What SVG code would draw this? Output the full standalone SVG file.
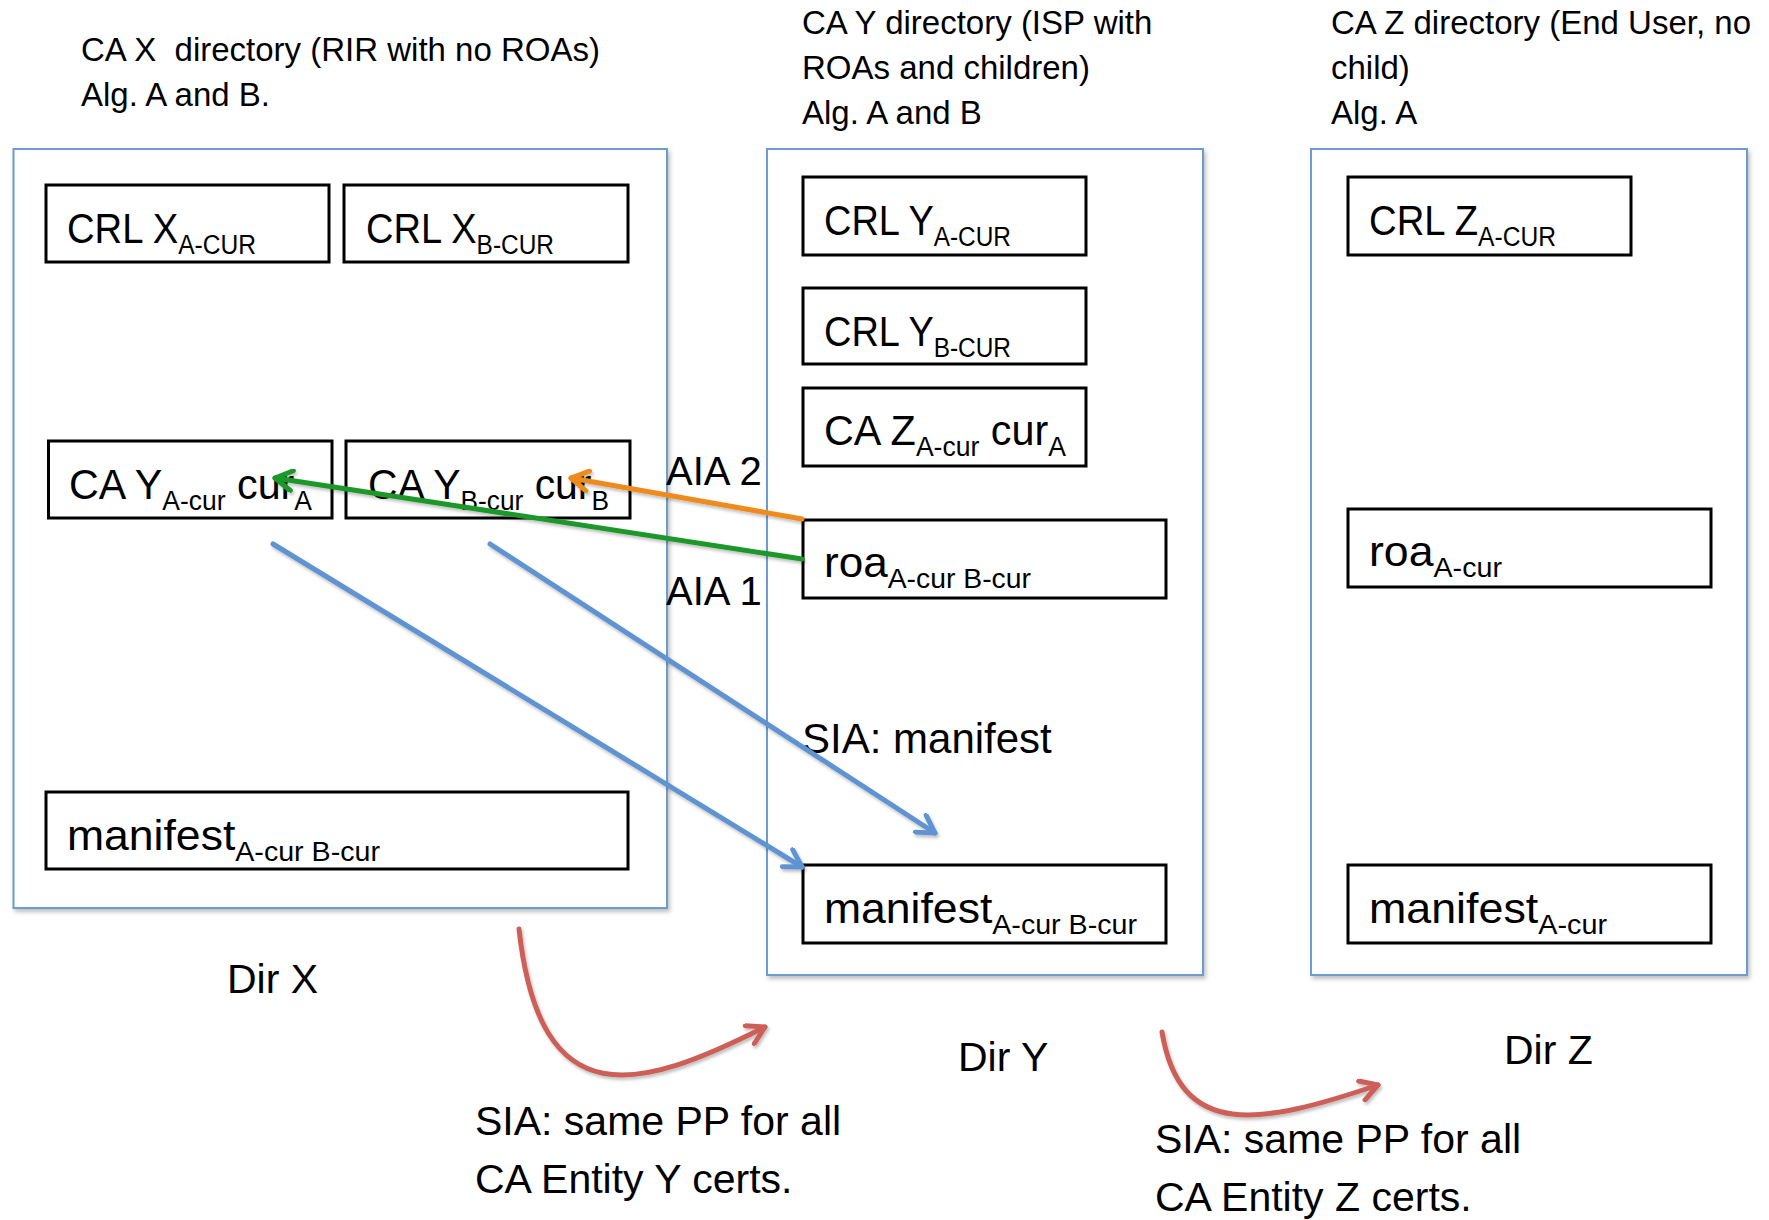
<svg xmlns="http://www.w3.org/2000/svg" width="1769" height="1220" viewBox="0 0 1769 1220">
<style>
text{font-family:"Liberation Sans",Arial,sans-serif;fill:#000}
.title{font-size:33px}
.lbl{font-size:41px}
.bt{font-size:42px}
.sub{font-size:27px}
.dir{fill:#fff;stroke:#6e9bd2;stroke-width:2;filter:url(#sh)}
.box{fill:#fff;stroke:#000;stroke-width:3}
.c{fill:none;stroke-width:5;stroke-linecap:round}
</style>
<defs>
<filter id="sh" x="-5%" y="-5%" width="110%" height="110%">
<feDropShadow dx="2" dy="3" stdDeviation="2" flood-color="#000" flood-opacity="0.25"/>
</filter>
<filter id="lsh" x="-10%" y="-10%" width="120%" height="120%">
<feDropShadow dx="1.5" dy="2.5" stdDeviation="1.5" flood-color="#000" flood-opacity="0.25"/>
</filter>
<marker id="aB" viewBox="0 0 24 24" refX="20" refY="12" markerWidth="24" markerHeight="24" markerUnits="userSpaceOnUse" orient="auto"><path d="M3,2 L20,12 L3,22" fill="none" stroke="#5f93d1" stroke-width="5" stroke-linecap="round" stroke-linejoin="round"/></marker>
<marker id="aG" viewBox="0 0 24 24" refX="20" refY="12" markerWidth="24" markerHeight="24" markerUnits="userSpaceOnUse" orient="auto"><path d="M3,2 L20,12 L3,22" fill="none" stroke="#1f982a" stroke-width="5" stroke-linecap="round" stroke-linejoin="round"/></marker>
<marker id="aO" viewBox="0 0 24 24" refX="20" refY="12" markerWidth="24" markerHeight="24" markerUnits="userSpaceOnUse" orient="auto"><path d="M3,2 L20,12 L3,22" fill="none" stroke="#ef8a1b" stroke-width="5" stroke-linecap="round" stroke-linejoin="round"/></marker>
<marker id="aR" viewBox="0 0 24 24" refX="20" refY="12" markerWidth="24" markerHeight="24" markerUnits="userSpaceOnUse" orient="auto"><path d="M3,2 L20,12 L3,22" fill="none" stroke="#cc6158" stroke-width="5" stroke-linecap="round" stroke-linejoin="round"/></marker>
</defs>
<rect width="1769" height="1220" fill="#fff"/>

<g id="dirX">
<text class="title" x="81" y="61" xml:space="preserve">CA X  directory (RIR with no ROAs)</text>
<text class="title" x="81" y="106">Alg. A and B.</text>
<rect class="dir" x="13.5" y="149" width="653.5" height="759"/>
<text class="lbl" x="227" y="993">Dir X</text>
</g>
<g id="dirY">
<text class="title" x="802" y="34">CA Y directory (ISP with</text>
<text class="title" x="802" y="79">ROAs and children)</text>
<text class="title" x="802" y="124">Alg. A and B</text>
<rect class="dir" x="767" y="149" width="436" height="826"/>
<text class="lbl" x="958" y="1071">Dir Y</text>
</g>
<g id="dirZ">
<text class="title" x="1331" y="34">CA Z directory (End User, no</text>
<text class="title" x="1331" y="79">child)</text>
<text class="title" x="1331" y="124">Alg. A</text>
<rect class="dir" x="1311" y="149" width="436" height="826"/>
<text class="lbl" x="1504" y="1064">Dir Z</text>
</g>

<g id="crlXA"><rect class="box" x="46" y="185" width="283" height="77"/>
<text class="bt" x="67" y="243" textLength="189" lengthAdjust="spacingAndGlyphs">CRL X<tspan class="sub" dy="11">A-CUR</tspan></text></g>
<g id="crlXB"><rect class="box" x="344" y="185" width="284" height="77"/>
<text class="bt" x="366" y="243" textLength="188" lengthAdjust="spacingAndGlyphs">CRL X<tspan class="sub" dy="11">B-CUR</tspan></text></g>
<g id="caYA"><rect class="box" x="48.5" y="441" width="283.5" height="77"/>
<text class="bt" x="69" y="499" textLength="243" lengthAdjust="spacingAndGlyphs">CA Y<tspan class="sub" dy="11">A-cur</tspan><tspan dy="-11"> cur</tspan><tspan class="sub" dy="11">A</tspan></text></g>
<g id="caYB"><rect class="box" x="346" y="441" width="284" height="77"/>
<text class="bt" x="368" y="499" textLength="241" lengthAdjust="spacingAndGlyphs">CA Y<tspan class="sub" dy="11">B-cur</tspan><tspan dy="-11"> cur</tspan><tspan class="sub" dy="11">B</tspan></text></g>
<g id="manX"><rect class="box" x="46" y="792" width="582" height="77"/>
<text class="bt" x="67" y="850" textLength="313" lengthAdjust="spacingAndGlyphs">manifest<tspan class="sub" dy="11">A-cur B-cur</tspan></text></g>

<g id="crlYA"><rect class="box" x="803" y="177" width="283" height="78"/>
<text class="bt" x="824" y="235" textLength="187" lengthAdjust="spacingAndGlyphs">CRL Y<tspan class="sub" dy="11">A-CUR</tspan></text></g>
<g id="crlYB"><rect class="box" x="803" y="288" width="283" height="76"/>
<text class="bt" x="824" y="346" textLength="187" lengthAdjust="spacingAndGlyphs">CRL Y<tspan class="sub" dy="11">B-CUR</tspan></text></g>
<g id="caZA"><rect class="box" x="803" y="388" width="283" height="78"/>
<text class="bt" x="824" y="445" textLength="242" lengthAdjust="spacingAndGlyphs">CA Z<tspan class="sub" dy="11">A-cur</tspan><tspan dy="-11"> cur</tspan><tspan class="sub" dy="11">A</tspan></text></g>
<g id="roaY"><rect class="box" x="803" y="520" width="363" height="78"/>
<text class="bt" x="824" y="577" textLength="207" lengthAdjust="spacingAndGlyphs">roa<tspan class="sub" dy="11">A-cur B-cur</tspan></text></g>
<g id="manY"><rect class="box" x="803" y="865" width="363" height="78"/>
<text class="bt" x="824" y="923" textLength="313" lengthAdjust="spacingAndGlyphs">manifest<tspan class="sub" dy="11">A-cur B-cur</tspan></text></g>

<g id="crlZA"><rect class="box" x="1348" y="177" width="283" height="78"/>
<text class="bt" x="1369" y="235" textLength="187" lengthAdjust="spacingAndGlyphs">CRL Z<tspan class="sub" dy="11">A-CUR</tspan></text></g>
<g id="roaZ"><rect class="box" x="1348" y="509" width="363" height="78"/>
<text class="bt" x="1369" y="566" textLength="133" lengthAdjust="spacingAndGlyphs">roa<tspan class="sub" dy="11">A-cur</tspan></text></g>
<g id="manZ"><rect class="box" x="1348" y="865" width="363" height="78"/>
<text class="bt" x="1369" y="923" textLength="238" lengthAdjust="spacingAndGlyphs">manifest<tspan class="sub" dy="11">A-cur</tspan></text></g>

<g id="labels">
<text class="lbl" x="666" y="485" style="font-size:40px">AIA 2</text>
<text class="lbl" x="666" y="605" style="font-size:40px">AIA 1</text>
<text class="lbl" x="802" y="753" style="font-size:42px">SIA: manifest</text>
<text class="lbl" x="475" y="1135">SIA: same PP for all</text>
<text class="lbl" x="475" y="1193">CA Entity Y certs.</text>
<text class="lbl" x="1155" y="1153">SIA: same PP for all</text>
<text class="lbl" x="1155" y="1211">CA Entity Z certs.</text>
</g>

<g id="connectors" filter="url(#lsh)">
<path class="c" stroke="#1f982a" d="M802,559 L275,478" marker-end="url(#aG)"/>
<path class="c" stroke="#ef8a1b" d="M802,519 L571,478" marker-end="url(#aO)"/>
<path class="c" stroke="#5f93d1" d="M273,544 L802,867" marker-end="url(#aB)"/>
<path class="c" stroke="#5f93d1" d="M490,544 L935,833" marker-end="url(#aB)"/>
<path class="c" stroke="#cc6158" d="M519,929 C540,1120 640,1090 765,1027" marker-end="url(#aR)"/>
<path class="c" stroke="#cc6158" d="M1162,1032 C1180,1140 1260,1125 1378,1085" marker-end="url(#aR)"/>
</g>
</svg>
